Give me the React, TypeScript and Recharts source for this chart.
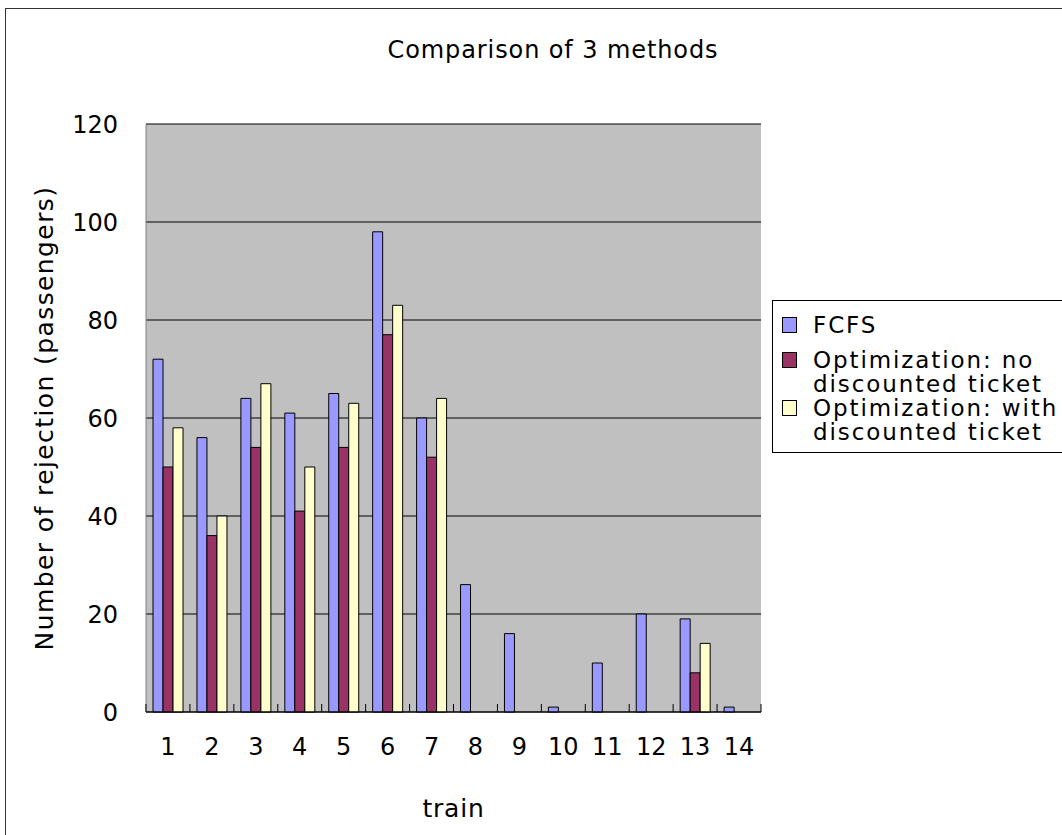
import React from 'react';
import { BarChart, Bar, XAxis, YAxis, CartesianGrid } from 'recharts';

const trains = ['1', '2', '3', '4', '5', '6', '7', '8', '9', '10', '11', '12', '13', '14'];
const fcfs = [72, 56, 64, 61, 65, 98, 60, 26, 16, 1, 10, 20, 19, 1];
const optNo = [50, 36, 54, 41, 54, 77, 52, 0, 0, 0, 0, 0, 8, 0];
const optWith = [58, 40, 67, 50, 63, 83, 64, 0, 0, 0, 0, 0, 14, 0];
const yTicks = [0, 20, 40, 60, 80, 100, 120];

const seriesNames = ['FCFS', 'Optimization: no discounted ticket', 'Optimization: with discounted ticket'];
const legendLines = [['FCFS'], ['Optimization: no', 'discounted ticket'], ['Optimization: with', 'discounted ticket']];
const colors = ['#9999FF', '#993366', '#FFFFCC'];

const data = trains.map((t, i) => ({ train: t, fcfs: fcfs[i], optNo: optNo[i], optWith: optWith[i] }));

const FONT = '"DejaVu Sans", sans-serif';

const XTick = (props: any) => {
  const { x, y, payload, index } = props;
  const off = payload && payload.offset != null ? payload.offset : 22;
  return (
    <g>
      <line x1={x - off} y1={y} x2={x - off} y2={y - 8} stroke="#000" />
      {index === trains.length - 1 && <line x1={x + off} y1={y} x2={x + off} y2={y - 8} stroke="#000" />}
      <text x={x} y={y + 43} textAnchor="middle" fontSize={24} fontFamily={FONT} fill="#000">
        {payload.value}
      </text>
    </g>
  );
};

const LegendBox = () => (
  <div
    style={{
      position: 'absolute',
      left: 772,
      top: 300,
      width: 320,
      height: 153,
      border: '1px solid #000',
      background: '#fff',
      boxSizing: 'border-box',
      paddingTop: 12,
      paddingLeft: 9,
      fontFamily: FONT,
      fontSize: 23,
      letterSpacing: 1.9,
      lineHeight: '24px',
      color: '#000',
      whiteSpace: 'nowrap',
    }}
  >
    {legendLines.map((lines, i) => (
      <div key={seriesNames[i]} style={{ display: 'flex', alignItems: 'flex-start', marginBottom: i === 0 ? 11 : 0 }}>
        <div
          style={{
            width: 15,
            height: 16,
            background: colors[i],
            border: '1px solid #000',
            boxSizing: 'border-box',
            marginTop: 4,
            marginRight: 16,
            flex: 'none',
          }}
        />
        <div>
          {lines.map((l, j) => (
            <div key={j}>{l}</div>
          ))}
        </div>
      </div>
    ))}
  </div>
);

export default function App() {
  return (
    <div style={{ position: 'absolute', left: 0, top: 0, width: 1062, height: 835, overflow: 'hidden', background: '#fff' }}>
      <div
        style={{
          position: 'absolute',
          left: 5,
          top: 8,
          width: 1100,
          height: 900,
          border: '1px solid #333',
        }}
      />
      <div
        style={{
          position: 'absolute',
          left: 0,
          width: 1106,
          top: 36,
          textAlign: 'center',
          fontFamily: FONT,
          fontSize: 24,
          letterSpacing: 0.9,
          lineHeight: '28px',
          color: '#000',
        }}
      >
        Comparison of 3 methods
      </div>
      <div style={{ position: 'absolute', left: 0, top: 0 }}>
        <BarChart
          width={1062}
          height={835}
          data={data}
          margin={{ top: 124, right: 301, bottom: 13, left: 86 }}
          barCategoryGap="16%"
          barGap={0}
        >
          <CartesianGrid horizontal vertical={false} fill="#C0C0C0" stroke="#000" strokeOpacity={1} />
          <XAxis
            dataKey="train"
            height={110}
            tickSize={0}
            tickMargin={0}
            axisLine={{ stroke: '#000' }}
            tickLine={false}
            tick={<XTick />}
            interval={0}
            label={{
              content: (p: any) => {
                const vb = p.viewBox || { x: 146, y: 712, width: 615, height: 110 };
                const cx = vb.x + vb.width / 2;
                return (
                  <text x={cx} y={817} textAnchor="middle" fontSize={25} letterSpacing={0.8} fontFamily={FONT} fill="#000">
                    train
                  </text>
                );
              },
            }}
          />
          <YAxis
            width={60}
            domain={[0, 120]}
            ticks={yTicks}
            interval={0}
            axisLine={{ stroke: '#808080' }}
            tickLine={false}
            tickMargin={22}
            tick={{ fontSize: 24, fontFamily: FONT, fill: '#000' }}
            label={{
              content: (p: any) => {
                const vb = p.viewBox || { x: 86, y: 124, width: 60, height: 588 };
                const cx = 44;
                const cy = vb.y + vb.height / 2;
                return (
                  <text
                    x={cx}
                    y={cy}
                    transform={`rotate(-90, ${cx}, ${cy})`}
                    textAnchor="middle"
                    dominantBaseline="central"
                    fontSize={25}
                    letterSpacing={1.4}
                    fontFamily={FONT}
                    fill="#000"
                  >
                    Number of rejection (passengers)
                  </text>
                );
              },
            }}
          />
          <YAxis
            yAxisId="right"
            orientation="right"
            width={0}
            domain={[0, 120]}
            tick={false}
            tickLine={false}
            axisLine={{ stroke: '#808080' }}
          />
          <Bar dataKey="fcfs" name={seriesNames[0]} fill={colors[0]} stroke="#000" strokeWidth={1} isAnimationActive={false} />
          <Bar dataKey="optNo" name={seriesNames[1]} fill={colors[1]} stroke="#000" strokeWidth={1} isAnimationActive={false} />
          <Bar dataKey="optWith" name={seriesNames[2]} fill={colors[2]} stroke="#000" strokeWidth={1} isAnimationActive={false} />
        </BarChart>
      </div>
      <LegendBox />
    </div>
  );
}
